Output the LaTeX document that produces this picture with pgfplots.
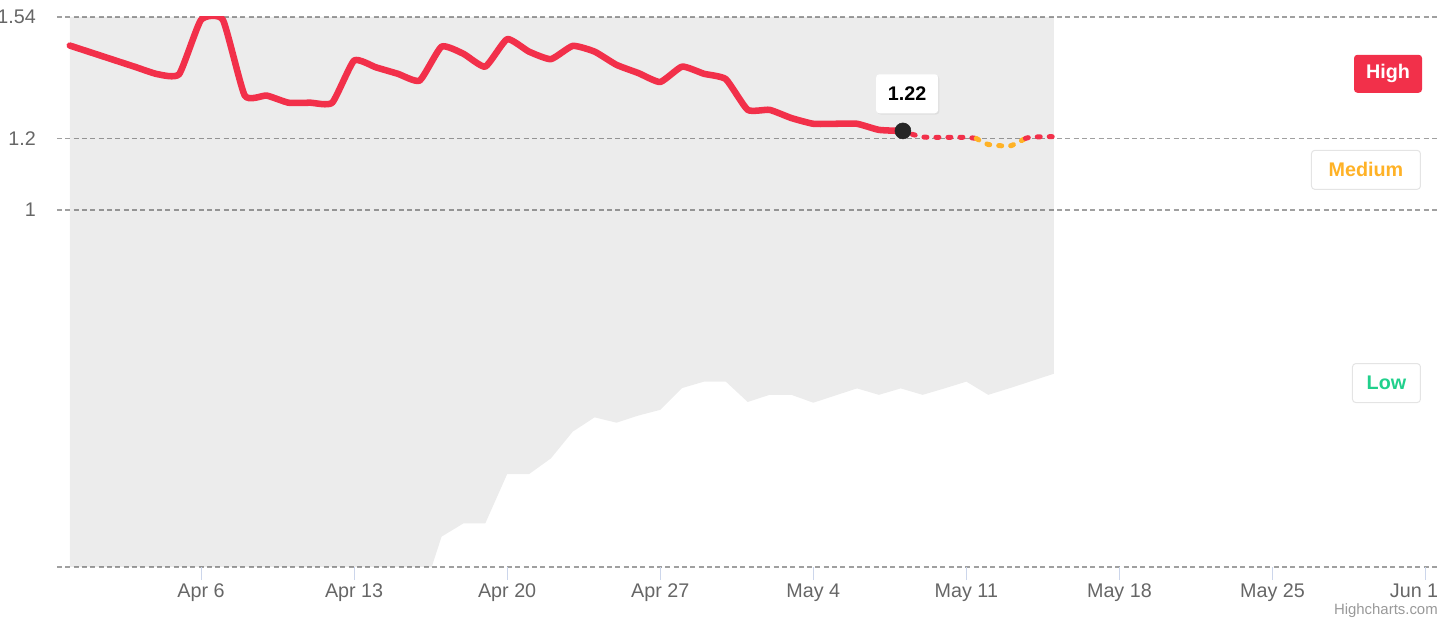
\documentclass[border=0pt]{standalone}
\usepackage{pgfplots}
\pgfplotsset{compat=1.18}
\usepackage{fontspec}
\setmainfont{Liberation Sans}
\definecolor{hcred}{RGB}{242,48,74}
\definecolor{hcorange}{RGB}{255,178,38}
\definecolor{hcgreen}{RGB}{33,208,140}
\definecolor{gridgray}{RGB}{160,160,160}
\definecolor{tickblue}{RGB}{204,214,235}
\definecolor{labelgray}{RGB}{102,102,102}
\definecolor{boxgray}{RGB}{228,228,228}
\definecolor{creditgray}{RGB}{153,153,153}
\newcommand\lblfont{\fontsize{14.8}{17}\selectfont}
\begin{document}
\begin{tikzpicture}
\useasboundingbox (0,0) rectangle (1080pt,465pt);
\begin{axis}[
  at={(42.75pt,39.75pt)}, anchor=south west,
  scale only axis, width=1037.25pt, height=412.5pt,
  xmin=-1.586, xmax=61.66, ymin=0, ymax=1.54,
  axis line style={draw=none},
  tick pos=left,
  xtick={5,12,19,26,33,40,47,54,61},
  xticklabels={Apr 6,Apr 13,Apr 20,Apr 27,May 4,May 11,May 18,May 25,\makebox[19pt][r]{Jun 1}},
  ytick={0,1,1.2,1.54},
  yticklabels={,1,1.2,1.54},
  xtick align=outside,
  major tick length=9.75pt,
  xtick style={draw=tickblue, line width=0.75pt},
  ytick style={draw=none},
  ymajorgrids,
  grid style={draw=gridgray, line width=1.3pt, dash pattern=on 3.75pt off 2.5pt},
  tick label style={font=\lblfont, text=labelgray, inner sep=0pt},
  xticklabel style={anchor=north, yshift=-2.5pt},
  yticklabel style={anchor=east, xshift=-15.75pt},
  clip=true,
]
% range band
\addplot[draw=none, fill=black, fill opacity=0.075] coordinates {
(-1,1.54) (44,1.54) (44,0.541) (43,0.521) (42,0.501) (41,0.482) (40,0.519)
(39,0.500) (38,0.482) (37,0.500) (36,0.482) (35,0.500) (34,0.480) (33,0.460)
(32,0.482) (31,0.482) (30,0.462) (29,0.519) (28,0.519) (27,0.501) (26,0.440)
(25,0.424) (24,0.404) (23,0.419) (22,0.379) (21,0.304) (20,0.260) (19,0.260)
(18,0.122) (17,0.122) (16,0.085) (15.55,0) (-1,0)} -- cycle;
% observed line
\addplot[hcred, line width=4.9pt, smooth, tension=0.3, line join=round, line cap=round] coordinates {
(-1,1.46) (0,1.44) (1,1.42) (2,1.40) (3,1.38) (4,1.38) (5,1.532) (6,1.532)
(7,1.32) (8,1.32) (9,1.30) (10,1.30) (11,1.30) (12,1.418) (13,1.399) (14,1.381)
(15,1.362) (16,1.457) (17,1.437) (18,1.401) (19,1.478) (20,1.443) (21,1.422)
(22,1.459) (23,1.443) (24,1.406) (25,1.383) (26,1.358) (27,1.401) (28,1.381)
(29,1.366) (30,1.280) (31,1.280) (32,1.257) (33,1.241) (34,1.241) (35,1.241)
(36,1.224) (37,1.221)};
% forecast (dotted, zone coloured)
\addplot[hcred, line width=3.75pt, line cap=round, dash pattern=on 2.25pt off 6.75pt, smooth, tension=0.3] coordinates {
(37,1.221) (38,1.204) (39,1.203) (40,1.203) (40.45,1.2)};
\addplot[hcorange, line width=3.75pt, line cap=round, dash pattern=on 2.25pt off 6.75pt, smooth, tension=0.3] coordinates {
(40.45,1.2) (41,1.183) (42,1.179) (42.7,1.2)};
\addplot[hcred, line width=3.75pt, line cap=round, dash pattern=on 2.25pt off 6.75pt, smooth, tension=0.3] coordinates {
(42.7,1.2) (43,1.204) (44,1.205)};
% current point
\addplot[only marks, mark=*, mark size=6pt, draw=black!85, fill=black!85] coordinates {(37.1,1.221)};
% annotations
\node[fill=black, fill opacity=0.06, rounded corners=2.5pt, minimum width=46.5pt, minimum height=29.25pt, inner sep=0pt,
      xshift=1pt, yshift=-1pt] at (axis cs:37.29,1.325) {};
\node[fill=white, rounded corners=2.5pt, minimum width=46.5pt, minimum height=29.25pt, inner sep=0pt,
      font=\lblfont\bfseries, text=black] at (axis cs:37.29,1.325) {1.22};
\node[anchor=east, fill=hcred, rounded corners=2.5pt, minimum height=28.5pt, minimum width=51pt, inner xsep=8.6pt, inner ysep=0pt,
      font=\lblfont\bfseries, text=white] at (axis cs:60.85,1.381) {High};
\node[anchor=east, fill=white, draw=boxgray, line width=0.75pt, rounded corners=2.5pt, minimum height=29.25pt, minimum width=81.75pt, inner xsep=8.6pt, inner ysep=0pt,
      font=\lblfont\bfseries, text=hcorange] at (axis cs:60.79,1.112) {Medium};
\node[anchor=east, fill=white, draw=boxgray, line width=0.75pt, rounded corners=2.5pt, minimum height=29.25pt, minimum width=51pt, inner xsep=8.6pt, inner ysep=0pt,
      font=\lblfont\bfseries, text=hcgreen] at (axis cs:60.79,0.515) {Low};
\end{axis}
\node[anchor=east, inner sep=0pt, font=\fontsize{11.2}{13}\selectfont, text=creditgray] at (1078.5pt,7pt) {Highcharts.com};
\end{tikzpicture}
\end{document}
